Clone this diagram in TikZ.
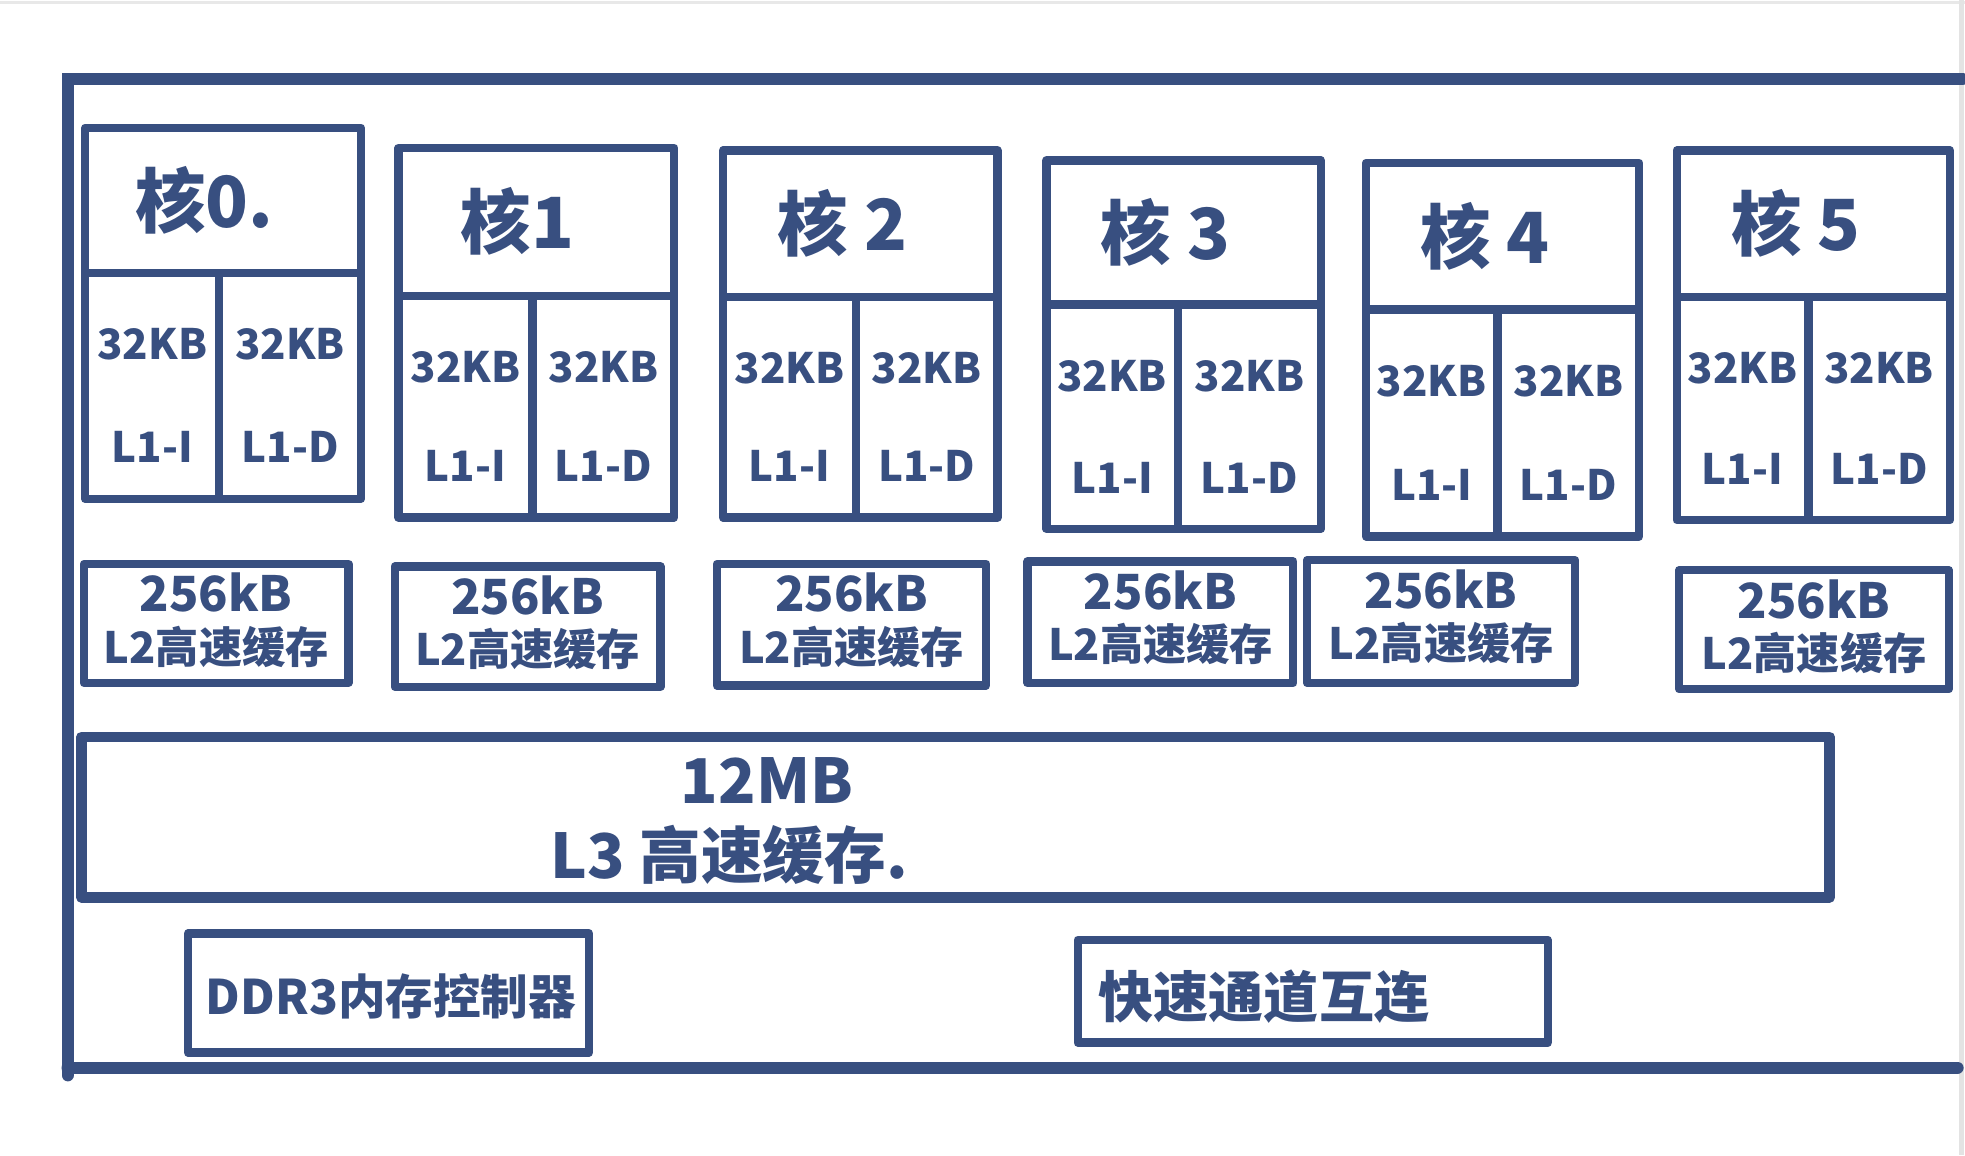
\documentclass[tikz,border=0pt]{standalone}
\usepackage{fontspec}
\setmainfont{Noto Sans CJK SC}
\usetikzlibrary{calc}
\definecolor{ink}{RGB}{56,79,128}
\tikzset{
  frameline/.style={draw=ink, line width=2.8pt, line cap=round},
  box/.style={draw=ink, line width=1.9pt, rectangle, inner sep=0pt, line join=round},
  lbl/.style={text=ink, inner sep=0pt},
  corelbl/.style={lbl, font=\fontsize{16}{18}\selectfont\bfseries},
  celllbl/.style={lbl, font=\fontsize{9.5}{11}\selectfont\bfseries},
  ltwolbl/.style={lbl, font=\fontsize{11}{13}\selectfont\bfseries},
  ltwoname/.style={lbl, font=\fontsize{9.8}{12}\selectfont\bfseries},
  bigthree/.style={lbl, font=\fontsize{14}{16}\selectfont\bfseries},
  botlbl/.style={lbl, font=\fontsize{12.5}{14}\selectfont\bfseries},
}
\newcommand\mybx[6]{%
  \pgfmathsetmacro\bw{(#4-#2)*0.01}\pgfmathsetmacro\bh{(#5-#3)*0.01}%
  \node[box,minimum width=\bw cm,minimum height=\bh cm,#6] (#1) at ({(#2+#4)/2},{(#3+#5)/2}) {};}
% core: name, x1, ytop, ydiv, ybot, xmid, x2, label
\newcommand\mycore[8]{%
  \mybx{#1h}{#2}{#3}{#7}{#4}{}
  \mybx{#1i}{#2}{#4}{#6}{#5}{}
  \mybx{#1d}{#6}{#4}{#7}{#5}{}
  \node[corelbl] (#1t) at ({#2+95},{(#3+#4)/2}) {#8};
  \node[celllbl] (#1is) at ({(#2+#6)/2},{#4+57}) {32KB};
  \node[celllbl] (#1in) at ({(#2+#6)/2},{#5-41}) {L1-I};
  \node[celllbl] (#1ds) at ({(#6+#7)/2},{#4+57}) {32KB};
  \node[celllbl] (#1dn) at ({(#6+#7)/2},{#5-41}) {L1-D};
}
\newcommand\myltwo[5]{%
  \mybx{#1}{#2}{#3}{#4}{#5}{}
  \node[ltwolbl] (#1s) at ({(#2+#4)/2},{#3+23}) {256kB};
  \node[ltwoname] (#1n) at ({(#2+#4)/2},{#3+66}) {L2高速缓存};
}
\begin{document}
\begin{tikzpicture}[x=0.01cm,y=-0.01cm]
\useasboundingbox (0,0) rectangle (1568,922);
\fill[white] (0,0) rectangle (1568,922);
% screenshot edges
\draw[gray!18, line width=0.6pt] (0,2) -- (1568,2);
\draw[gray!22, line width=1.2pt] (1565,0) -- (1565,922);
% outer frame
\coordinate (ftl) at (54,63);
\coordinate (ftr) at (1566,63);
\coordinate (fbl) at (54,852);
\coordinate (fbr) at (1562,852);
\coordinate (fbot) at (54,858);
\draw[frameline] (ftr) -- (ftl) -- (fbot);
\draw[frameline] (fbl) -- (fbr);
% cores
\mycore{c0}{68}{102}{218}{398}{175}{288}{核0.}
\mycore{c1}{318}{118}{236}{413}{425}{538}{核1}
\mycore{c2}{577}{120}{237}{413}{683}{796}{核 2}
\mycore{c3}{835}{128}{243}{422}{940}{1054}{核 3}
\mycore{c4}{1090}{130}{247}{428}{1195}{1308}{核 4}
\mycore{c5}{1338}{120}{237}{415}{1443}{1556}{核 5}
% L2
\myltwo{l0}{67}{450}{278}{545}
\myltwo{l1}{315}{452}{527}{548}
\myltwo{l2}{572}{450}{787}{547}
\myltwo{l3}{820}{448}{1032}{545}
\myltwo{l4}{1043}{447}{1257}{545}
\myltwo{l5}{1340}{455}{1555}{550}
% L3
\mybx{lthree}{65}{588}{1460}{716}{line width=2.4pt}
\node[bigthree] (lthreea) at (612,623) {12MB};
\node[bigthree] (lthreeb) at (582,682) {L3 高速缓存.};
% bottom boxes
\mybx{ddr}{150}{745}{470}{840}{}
\node[botlbl, font=\fontsize{10.8}{13}\selectfont\bfseries] (ddrt) at (312,795) {DDR3内存控制器};
\mybx{qpi}{860}{750}{1235}{832}{}
\node[botlbl, anchor=west] (qpit) at (876,795) {快速通道互连};
\end{tikzpicture}
\end{document}
